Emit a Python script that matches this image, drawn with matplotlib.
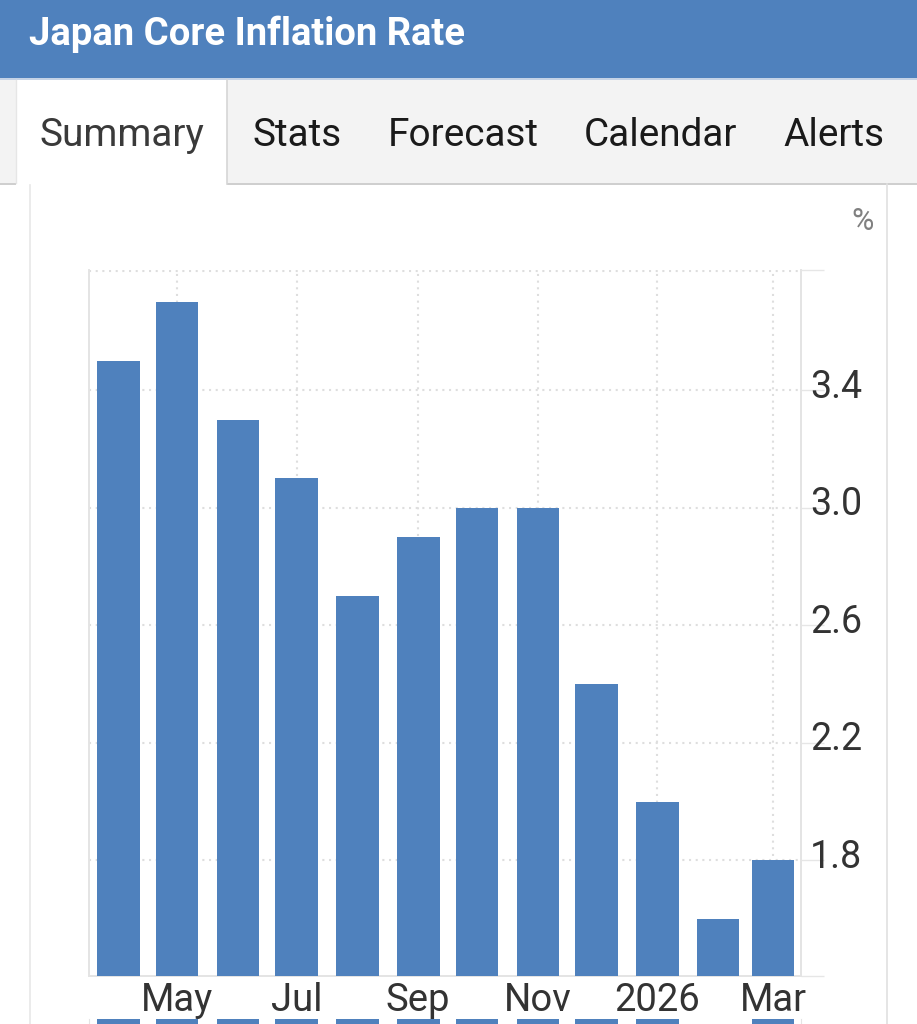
import datetime as dt
import matplotlib
matplotlib.use('Agg')
import matplotlib.pyplot as plt
import matplotlib.dates as mdates
from matplotlib.patches import Rectangle
from matplotlib.transforms import ScaledTranslation

plt.rcParams['font.family'] = ['Roboto', 'DejaVu Sans']

months = ['2025-04-01', '2025-05-01', '2025-06-01', '2025-07-01', '2025-08-01', '2025-09-01',
          '2025-10-01', '2025-11-01', '2025-12-01', '2026-01-01', '2026-02-01', '2026-03-01']
values = [3.5, 3.7, 3.3, 3.1, 2.7, 2.9, 3.0, 3.0, 2.4, 2.0, 1.6, 1.8]

# the next chart down is cut off by the screenshot, only the bar tops show
lower_values = [1, 1, 1, 1, 1, 1, 1, 1, 1, 1, 0, 1]

x_tick_months = ['2025-05-01', '2025-07-01', '2025-09-01', '2025-11-01', '2026-01-01', '2026-03-01']
x_tick_labels = ['May', 'Jul', 'Sep', 'Nov', '2026', 'Mar']
y_ticks = [1.8, 2.2, 2.6, 3.0, 3.4]
y_tick_labels = ['1.8', '2.2', '2.6', '3.0', '3.4']
tabs = ['Stats', 'Forecast', 'Calendar', 'Alerts']
tab_x = [252.5, 388, 584, 783.5]

BLUE = '#4f81bd'
W, H = 917, 1024
dates = [dt.datetime.strptime(m, '%Y-%m-%d') for m in months]
tick_dates = [dt.datetime.strptime(m, '%Y-%m-%d') for m in x_tick_months]

fig = plt.figure(figsize=(W / 100, H / 100), dpi=100, facecolor='white')

# page furniture in pixel coordinates
bg = fig.add_axes([0, 0, 1, 1])
bg.set_xlim(0, W)
bg.set_ylim(H, 0)
bg.axis('off')
bg.add_patch(Rectangle((0, 0), W, 78, color=BLUE, lw=0))
bg.add_patch(Rectangle((0, 78), W, 2, color='#c5d3e6', lw=0))
bg.add_patch(Rectangle((0, 80), W, 103, color='#f3f3f3', lw=0))
bg.add_patch(Rectangle((0, 183), W, 1.5, color='#cfcfcf', lw=0))
bg.add_patch(Rectangle((16, 80), 211, 105, color='white', lw=0))
bg.plot([227, 227], [80, 184], color='#d5d5d5', lw=1.2)
bg.plot([16, 16], [80, 183], color='#e6e6e6', lw=1)
bg.plot([30, 30], [185, H], color='#e8e8e8', lw=1.2)
bg.plot([887, 887], [184, H], color='#e0e0e0', lw=1.2)

bg.text(29, 34, 'Japan Core Inflation Rate', color='white', fontsize=27.5,
        fontweight='bold', va='center', ha='left')
bg.text(39.5, 135.5, 'Summary', color='#3a3a3a', fontsize=27.9, va='center', ha='left')
for label, x in zip(tabs, tab_x):
    bg.text(x, 135.5, label, color='#1a1a1a', fontsize=27.9, va='center', ha='left')
bg.text(851.5, 221, '%', color='#808080', fontsize=22, va='center', ha='left')

# main bars
ax = fig.add_axes([89 / W, 1 - 976 / H, (801 - 89) / W, (976 - 270) / H])
ax.patch.set_alpha(0)
ax.bar(dates, values, width=21.7, color=BLUE, zorder=3)
ax.set_xlim(mdates.date2num(dates[0]) - 15, mdates.date2num(dates[-1]) + 14.3)
ax.set_ylim(1.407, 3.809)

ax.set_xticks(tick_dates)
ax.set_xticklabels(x_tick_labels)
ax.set_yticks(y_ticks)
ax.set_yticklabels(y_tick_labels)
ax.set_yticks([1.407, 3.809], minor=True)
ax.yaxis.tick_right()
ax.tick_params(axis='x', length=0, pad=4.5, labelsize=27.5, labelcolor='#333333')
ax.tick_params(axis='y', which='both', length=16.5, width=1, color='#e6e6e6', pad=-10,
               labelsize=27, labelcolor='#333333')
ax.grid(True, axis='both', linestyle=(0, (1, 2.2)), color='#dedede', linewidth=1.5, zorder=0)
ax.hlines(3.805, *ax.get_xlim(), color='#dedede', linestyle=(0, (1, 2.2)), linewidth=1.5, zorder=1)

# nudge y labels up a little
nudge = ScaledTranslation(0, 0.07, fig.dpi_scale_trans)
for lab in ax.get_yticklabels():
    lab.set_transform(lab.get_transform() + nudge)

ax.spines['top'].set_visible(False)
for side in ['left', 'right', 'bottom']:
    ax.spines[side].set_color('#e4e4e4')
    ax.spines[side].set_linewidth(1.4)

# top of the next chart
ax2 = fig.add_axes([89 / W, 0, (801 - 89) / W, 5 / H])
ax2.patch.set_alpha(0)
ax2.bar(dates, lower_values, width=21.7, color=BLUE)
ax2.set_xlim(ax.get_xlim())
ax2.set_ylim(0, 1)
ax2.set_xticks([])
ax2.set_yticks([])
for side in ['top', 'bottom']:
    ax2.spines[side].set_visible(False)
for side in ['left', 'right']:
    ax2.spines[side].set_color('#e4e4e4')

fig.savefig('out.png', dpi=100)
